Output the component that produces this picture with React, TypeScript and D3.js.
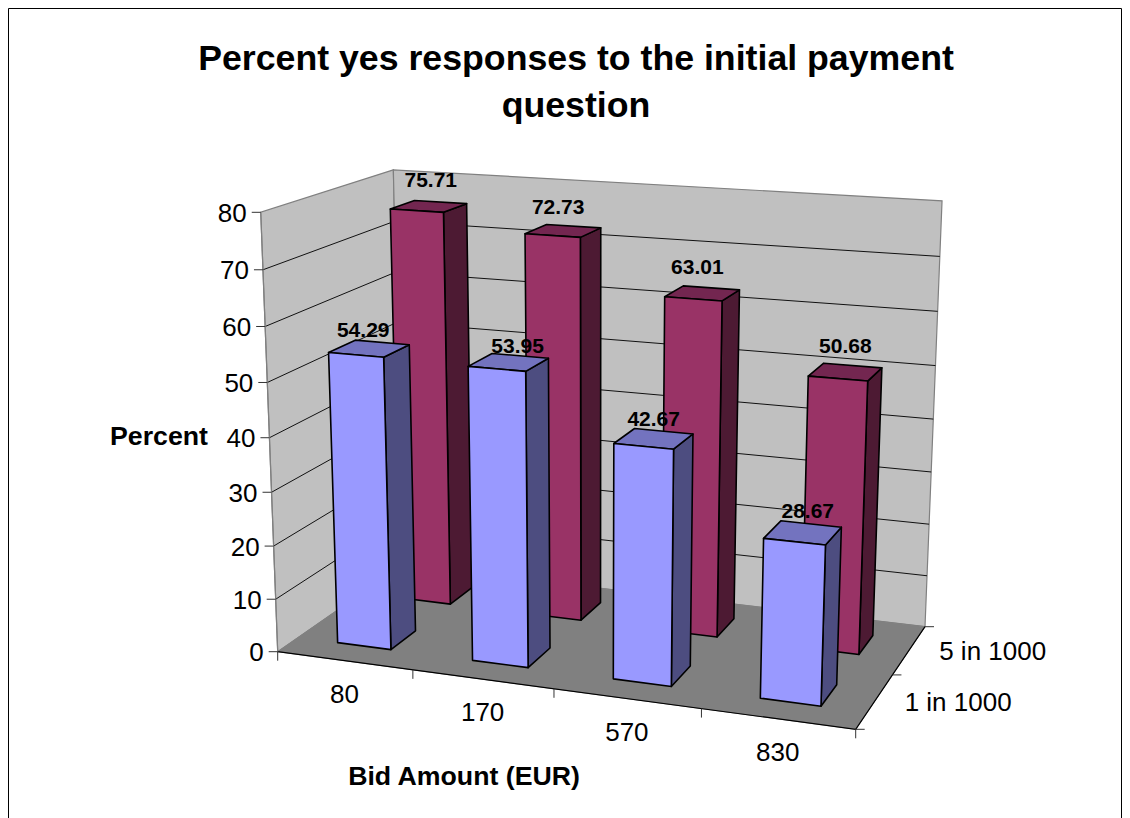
import React from "react";
import * as d3 from "d3";

const bidAmounts = ["80", "170", "570", "830"];
const riskLevels = ["1 in 1000", "5 in 1000"];
const oneIn1000 = [54.29, 53.95, 42.67, 28.67];
const fiveIn1000 = [75.71, 72.73, 63.01, 50.68];
const valueTicks = [0, 10, 20, 30, 40, 50, 60, 70, 80];
const titleLines = ["Percent yes responses to the initial payment", "question"];

const FONT = "'Liberation Sans', Arial, sans-serif";
const W = 1130, H = 818;

// floor quad of the 3-D box and the vanishing point of its verticals
const A = [277.7, 651.7], B = [855.7, 729.3], C = [925, 626.7], D = [402.5, 565];
const V = [595, 8870];
const topFrontLeftY = 212.3;

function makeProjection() {
  const [x0, y0] = A, [x1, y1] = B, [x2, y2] = C, [x3, y3] = D;
  const dx1 = x1 - x2, dx2 = x3 - x2, dx3 = x0 - x1 + x2 - x3;
  const dy1 = y1 - y2, dy2 = y3 - y2, dy3 = y0 - y1 + y2 - y3;
  const den = dx1 * dy2 - dx2 * dy1;
  const g = (dx3 * dy2 - dx2 * dy3) / den;
  const h = (dx1 * dy3 - dy1 * dx3) / den;
  const a = x1 - x0 + g * x1, b = x3 - x0 + h * x3, c = x0;
  const d = y1 - y0 + g * y1, e = y3 - y0 + h * y3, f = y0;
  const k = (topFrontLeftY - y0) / (V[1] - topFrontLeftY);
  return (X: number, Y: number, Z: number): [number, number] => {
    const w = g * X + h * Y + 1 + k * Z;
    return [(a * X + b * Y + c + k * V[0] * Z) / w, (d * X + e * Y + f + k * V[1] * Z) / w];
  };
}

const P = makeProjection();
const xBand = d3.scaleBand<string>().domain(bidAmounts).range([0, 1]).paddingInner(0.6).paddingOuter(0.3);
const yBand = d3.scaleBand<string>().domain(riskLevels).range([0, 1]).paddingInner(0.6).paddingOuter(0.3);
const zScale = d3.scaleLinear().domain([0, 80]).range([0, 1]);

const poly = (pts: [number, number][]) => (d3.line()(pts) || "") + "Z";

const seriesStyle = [
  { front: "#9999FF", side: "#4D4D80", top: "#7373BF" },
  { front: "#993366", side: "#4D1A33", top: "#732650" },
];

function Bar({ i, row, value }: { i: number; row: number; value: number }) {
  const x0 = xBand(bidAmounts[i])!, x1 = x0 + xBand.bandwidth();
  const y0 = yBand(riskLevels[row])!, y1 = y0 + yBand.bandwidth();
  const z = zScale(value);
  const s = seriesStyle[row];
  const stroke = { stroke: "#000", strokeWidth: 1.6, strokeLinejoin: "round" as const };
  return (
    <g>
      <path d={poly([P(x1, y0, 0), P(x1, y1, 0), P(x1, y1, z), P(x1, y0, z)])} fill={s.side} {...stroke} />
      <path d={poly([P(x0, y0, z), P(x1, y0, z), P(x1, y1, z), P(x0, y1, z)])} fill={s.top} {...stroke} />
      <path d={poly([P(x0, y0, 0), P(x1, y0, 0), P(x1, y0, z), P(x0, y0, z)])} fill={s.front} {...stroke} />
    </g>
  );
}

export default function App() {
  const series = [oneIn1000, fiveIn1000];
  const labelNudge = [
    [[-6, -19], [9, -17], [0, -20], [5, -22]],
    [[2, -27], [-5, -24], [-5, -27], [0, -26]],
  ];
  const stepX = xBand.step();
  const stepY = yBand.step();
  return (
    <svg width={W} height={H} viewBox={`0 0 ${W} ${H}`} fontFamily={FONT}
      style={{ position: "absolute", left: 0, top: 0, display: "block", background: "#fff" }}>
      <path d={`M8.5 ${H}V8.5H1121.5V${H}`} fill="none" stroke="#000" strokeWidth={1} />
      {titleLines.map((t, i) => (
        <text key={t} x={576} y={70 + i * 47} textAnchor="middle" fontSize={35.7} fontWeight="bold">{t}</text>
      ))}

      {/* walls and floor */}
      <path d={poly([P(0, 0, 0), P(0, 1, 0), P(0, 1, 1), P(0, 0, 1)])} fill="#C0C0C0" stroke="#808080" strokeWidth={1.2} />
      <path d={poly([P(0, 1, 0), P(1, 1, 0), P(1, 1, 1), P(0, 1, 1)])} fill="#C0C0C0" stroke="#808080" strokeWidth={1.2} />
      <path d={poly([P(0, 0, 0), P(1, 0, 0), P(1, 1, 0), P(0, 1, 0)])} fill="#808080" stroke="#808080" strokeWidth={1} />

      {/* gridlines */}
      {valueTicks.filter((t) => t > 0 && t < 80).map((t) => {
        const z = zScale(t);
        return (
          <path key={t} d={d3.line()([P(0, 0, z), P(0, 1, z), P(1, 1, z)]) || ""} fill="none" stroke="#111" strokeWidth={1} />
        );
      })}

      {/* axis lines and ticks */}
      <path d={d3.line()([P(1, 1, 0), P(1, 0, 0), P(0, 0, 0)]) || ""} fill="none" stroke="#000" strokeWidth={1.2} />
      <path d={d3.line()([P(0, 0, 0), P(0, 0, 1)]) || ""} fill="none" stroke="#808080" strokeWidth={1.2} />
      {valueTicks.map((t) => {
        const [x, y] = P(0, 0, zScale(t));
        return (
          <g key={t}>
            <line x1={x - 9} x2={x} y1={y} y2={y} stroke="#333" strokeWidth={1} />
            <text x={x - 14} y={y + 9.5} textAnchor="end" fontSize={26}>{t}</text>
          </g>
        );
      })}
      {d3.range(bidAmounts.length + 1).map((i) => {
        const [x, y] = P(i * stepX, 0, 0);
        return <line key={i} x1={x} x2={x} y1={y} y2={y + 9} stroke="#333" strokeWidth={1} />;
      })}
      {d3.range(riskLevels.length + 1).map((i) => {
        const [x, y] = P(1, i * stepY, 0);
        return <line key={i} x1={x} x2={x + 9} y1={y} y2={y} stroke="#333" strokeWidth={1} />;
      })}

      {/* bars: back row first */}
      {[1, 0].map((row) => series[row].map((v, i) => <Bar key={`${row}-${i}`} i={i} row={row} value={v} />))}

      {/* category labels */}
      {bidAmounts.map((c, i) => {
        const [x, y] = P((i + 0.5) * stepX, 0, 0);
        return <text key={c} x={x} y={y + 42} textAnchor="middle" fontSize={26}>{c}</text>;
      })}
      {riskLevels.map((r, i) => {
        const [x, y] = P(1, (i + 0.5) * stepY, 0);
        return <text key={r} x={x + 83.5} y={y + 9.5} textAnchor="middle" fontSize={26}>{r}</text>;
      })}

      {/* data labels */}
      {[0, 1].map((row) => series[row].map((v, i) => {
        const xc = xBand(bidAmounts[i])! + xBand.bandwidth() / 2;
        const yc = yBand(riskLevels[row])! + yBand.bandwidth() / 2;
        const [x, y] = P(xc, yc, zScale(v));
        const [nx, ny] = labelNudge[row][i];
        return (
          <text key={`${row}-${i}`} x={x + nx} y={y + ny + 7.5} textAnchor="middle" fontSize={21} fontWeight="bold">
            {v.toFixed(2)}
          </text>
        );
      }))}

      <text x={159} y={445} textAnchor="middle" fontSize={26.7} fontWeight="bold">Percent</text>
      <text x={464} y={785} textAnchor="middle" fontSize={26.7} fontWeight="bold">Bid Amount (EUR)</text>
    </svg>
  );
}
